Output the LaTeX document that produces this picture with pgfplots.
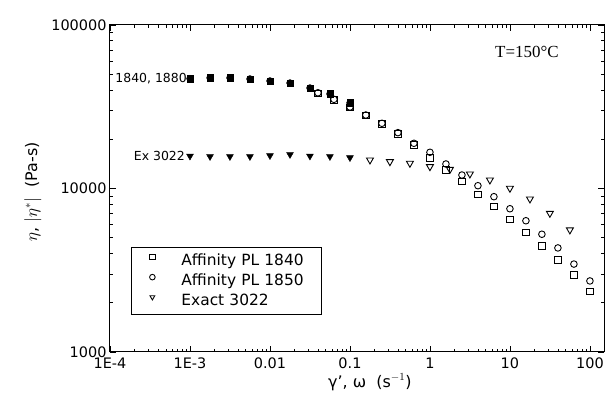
\documentclass[border=0pt]{standalone}
\usepackage{fontspec}
\setmainfont{DejaVu Sans}
\newfontfamily\seriffont{Liberation Serif}
\usepackage{pgfplots}
\pgfplotsset{compat=1.18}
\usetikzlibrary{calc}

\begin{document}
\begin{tikzpicture}
\begin{loglogaxis}[
  name=ax,
  scale only axis,
  width=494bp, height=327bp,
  xmin=1e-4, xmax=150,
  ymin=1000, ymax=100000,
  xtick={1e-4,1e-3,1e-2,1e-1,1,10,100},
  xticklabels={1E-4,1E-3,0.01,0.1,1,10,100},
  ytick={1000,10000,100000},
  yticklabels={1000,10000,100000},
  tick label style={font=\fontsize{14.5}{14.5}\selectfont},
  xticklabel style={yshift=-2bp},
  axis line style={line width=1pt},
  major tick length=6bp, minor tick length=3.5bp,
  every tick/.style={black, line width=0.8pt},
  every axis y label/.style={at={(axis description cs:-0.156,0.49)}, rotate=90, anchor=center},
  every axis x label/.style={at={(axis description cs:0.526,-0.092)}, anchor=center},
  label style={font=\fontsize{16}{16}\selectfont},
  xlabel={γ', ω\ \ (s$^{-1}$)},
  ylabel={$\eta$, $|\eta^{*}|$\ \ (Pa-s)},
  legend style={at={(axis description cs:0.0425,0.113)}, anchor=south west,
    draw=black, line width=0.8pt, font=\fontsize{15.5}{15.5}\selectfont,
    inner xsep=0pt, inner ysep=5.5bp, row sep=4bp,
    nodes={inner sep=0pt, text width=140bp, text height=12bp, text depth=4bp}},
  legend cell align=left,
  legend image code/.code={%
    \path[draw=none] (0bp,0bp) -- (50bp,0bp);
    \draw[#1, mark size=2.8bp] plot coordinates {(21bp,4bp)};},
]
% open symbols: oscillatory |eta*|
\addplot[only marks, mark=square, mark size=3.2bp, line width=0.9pt] coordinates {
 (0.0398,38000) (0.0631,34800) (0.1,31300) (0.158,27900) (0.251,24800)
 (0.398,21600) (0.631,18500) (1,15400) (1.585,12980) (2.512,11010)
 (3.98,9220) (6.31,7740) (10,6490) (15.85,5400) (25.1,4450)
 (39.8,3650) (63.1,2960) (100,2340)};
\addlegendentry{Affinity PL 1840}
\addplot[only marks, mark=o, mark size=3.3bp, line width=0.9pt] coordinates {
 (0.0398,38500) (0.0631,35100) (0.1,31500) (0.158,28150) (0.251,25050)
 (0.398,21950) (0.631,18900) (1,16650) (1.585,14120) (2.512,12090)
 (3.98,10400) (6.31,8910) (10,7520) (15.85,6350) (25.1,5250)
 (39.8,4330) (63.1,3450) (100,2720)};
\addlegendentry{Affinity PL 1850}
\addplot[only marks, mark=triangle, mark size=4bp, line width=0.9pt, mark options={rotate=180}] coordinates {
 (0.178,14940) (0.316,14590) (0.562,14260) (1,13600) (1.78,13100)
 (3.16,12270) (5.62,11270) (10,10030) (17.8,8630) (31.6,7050) (56.2,5580)};
\addlegendentry{Exact 3022}
% filled symbols: steady shear eta
\addplot[forget plot, only marks, mark=square*, mark size=3.2bp, black] coordinates {
 (0.001,47000) (0.00178,47500) (0.00316,47500) (0.00562,46800) (0.01,45500)
 (0.0178,44200) (0.0316,41200) (0.0562,37900) (0.1,33400)};
\addplot[forget plot, only marks, mark=*, mark size=3.4bp, black] coordinates {
 (0.001,47000) (0.00178,47500) (0.00316,47500) (0.00562,46800) (0.01,45500)
 (0.0178,44200) (0.0316,41200) (0.0562,37900) (0.1,33400)};
\addplot[forget plot, only marks, mark=triangle*, mark size=4bp, black, mark options={rotate=180}] coordinates {
 (0.001,15800) (0.00178,15700) (0.00316,15700) (0.00562,15700) (0.01,15900)
 (0.0178,16150) (0.0316,15800) (0.0562,15700) (0.1,15450)};
\node[anchor=east, font=\fontsize{12.5}{12.5}\selectfont, inner sep=0pt] at ([xshift=-3bp]axis cs:0.001,47000) {1840, 1880};
\node[anchor=east, font=\fontsize{12.5}{12.5}\selectfont, inner sep=0pt] at ([xshift=-5bp]axis cs:0.001,15800) {Ex 3022};
\node[font=\seriffont\fontsize{17}{17}\selectfont] at (axis cs:16.3,68400) {T=150°C};
\end{loglogaxis}
\pgfresetboundingbox
\path ($(ax.south west)+(-110bp,-51bp)$) rectangle ($(ax.north east)+(1bp,25bp)$);
\end{tikzpicture}
\end{document}
